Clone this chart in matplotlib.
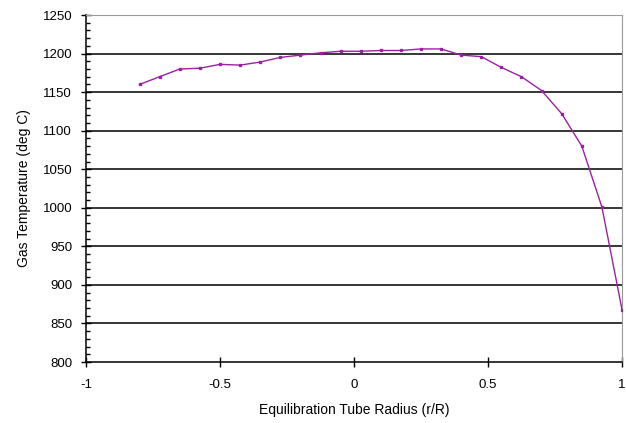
import matplotlib
matplotlib.use("Agg")
import matplotlib.pyplot as plt
from matplotlib.ticker import MultipleLocator, FuncFormatter

# radial position r/R, step 0.075 from -0.8 to 1.0
radius = [-0.8 + 0.075 * i for i in range(25)]
temperature = [1160, 1170, 1180, 1181, 1186, 1185, 1189, 1195, 1198, 1201,
               1203, 1203, 1204, 1204, 1206, 1206, 1198, 1196, 1182, 1170,
               1152, 1122, 1080, 1001, 868]

x_ticks = [-1, -0.5, 0, 0.5, 1]
y_ticks = list(range(800, 1251, 50))

plt.rcParams['font.family'] = ['Liberation Sans', 'DejaVu Sans']

fig = plt.figure(figsize=(6.26, 4.23), dpi=100)
ax = fig.add_axes([0.1374, 0.1442, 0.8562, 0.8203])

for y in y_ticks[1:-1]:
    ax.axhline(y, color='black', linewidth=1.1, zorder=1)

ax.plot(radius, temperature, color='#9a22a0', linewidth=1.0,
        marker='s', markersize=1.6, zorder=3)

ax.set_xlim(-1, 1)
ax.set_ylim(800, 1250)
ax.set_xticks(x_ticks)
ax.set_yticks(y_ticks)
ax.yaxis.set_minor_locator(MultipleLocator(10))
ax.xaxis.set_major_formatter(FuncFormatter(lambda v, p: f"{v:g}"))

ax.tick_params(axis='both', which='major', direction='inout', length=7,
               width=1, labelsize=9.5, colors='black')
ax.tick_params(axis='y', which='minor', direction='in', length=3, width=1)
ax.tick_params(axis='x', pad=8.5)
ax.tick_params(axis='y', pad=6.5)

for side in ['top', 'right']:
    ax.spines[side].set_color('#999999')
for side in ['left', 'bottom']:
    ax.spines[side].set_color('black')
    ax.spines[side].set_linewidth(1.1)

ax.set_xlabel("Equilibration Tube Radius (r/R)", fontsize=10, labelpad=9)
ax.set_ylabel("Gas Temperature (deg C)", fontsize=10, labelpad=8)

fig.savefig("out.png", dpi=100)
